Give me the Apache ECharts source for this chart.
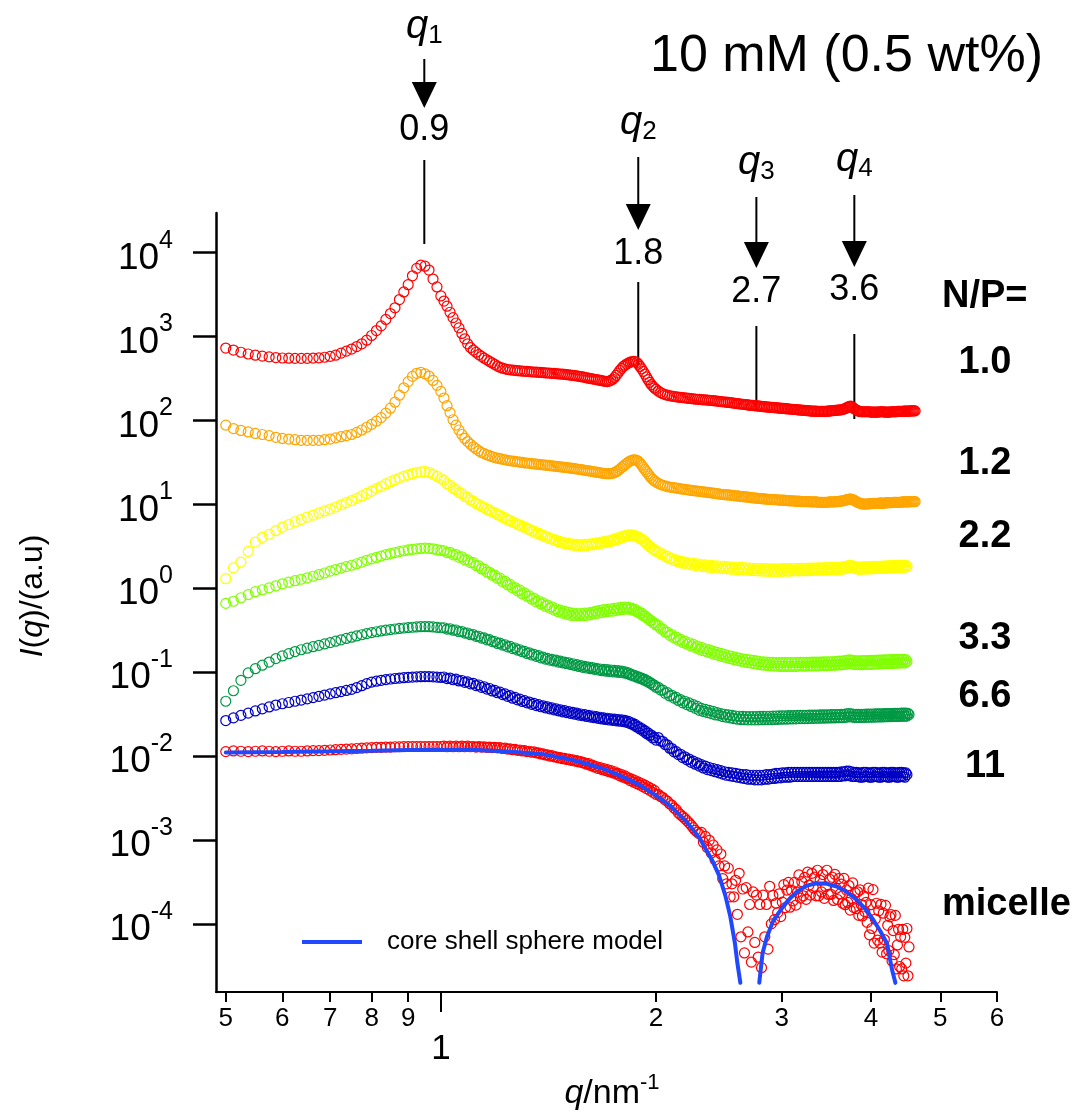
<!DOCTYPE html>
<html>
<head>
<meta charset="utf-8">
<script src="https://cdn.jsdelivr.net/npm/echarts@6/dist/echarts.min.js"></script>
<style>
  html, body { margin: 0; padding: 0; background: #fff; }
  #chart { width: 1088px; height: 1115px; }
</style>
</head>
<body>
<div id="chart"></div>
<script>
const FONT = '"Liberation Sans", Arial, Helvetica, sans-serif';

// Scattering vector q (nm^-1) of the measured points
const qGrid = [
  0.5, 0.5125, 0.525, 0.5375, 0.55, 0.5625, 0.575, 0.5875, 0.6, 0.6125, 0.625, 0.6375, 0.65, 0.6625, 0.675, 0.6875,
  0.7, 0.7125, 0.725, 0.7375, 0.75, 0.7625, 0.775, 0.7875, 0.8, 0.8125, 0.825, 0.8375, 0.85, 0.8625, 0.875, 0.8875,
  0.9, 0.9125, 0.925, 0.9375, 0.95, 0.9625, 0.975, 0.9875, 1.0,
  1.01, 1.02, 1.03, 1.04, 1.05, 1.06, 1.07, 1.08, 1.09, 1.10,
  1.11, 1.12, 1.13, 1.14, 1.15, 1.16, 1.17, 1.18, 1.19, 1.20,
  1.21, 1.22, 1.23, 1.24, 1.25, 1.26, 1.27, 1.28, 1.29, 1.30,
  1.31, 1.32, 1.33, 1.34, 1.35, 1.36, 1.37, 1.38, 1.39, 1.40,
  1.41, 1.42, 1.43, 1.44, 1.45, 1.46, 1.47, 1.48, 1.49, 1.50,
  1.51, 1.52, 1.53, 1.54, 1.55, 1.56, 1.57, 1.58, 1.59, 1.60,
  1.61, 1.62, 1.63, 1.64, 1.65, 1.66, 1.67, 1.68, 1.69, 1.70,
  1.71, 1.72, 1.73, 1.74, 1.75, 1.76, 1.77, 1.78, 1.79, 1.80,
  1.81, 1.82, 1.83, 1.84, 1.85, 1.86, 1.87, 1.88, 1.89, 1.90,
  1.91, 1.92, 1.93, 1.94, 1.95, 1.96, 1.97, 1.98, 1.99, 2.00,
  2.015, 2.03, 2.045, 2.06, 2.075, 2.09, 2.105, 2.12, 2.135, 2.15,
  2.165, 2.18, 2.195, 2.21, 2.225, 2.24, 2.255, 2.27, 2.285, 2.30,
  2.315, 2.33, 2.345, 2.36, 2.375, 2.39, 2.405, 2.42, 2.435, 2.45,
  2.465, 2.48, 2.495, 2.51, 2.525, 2.54, 2.555, 2.57, 2.585, 2.60,
  2.615, 2.63, 2.645, 2.66, 2.675, 2.69, 2.705, 2.72, 2.735, 2.75,
  2.765, 2.78, 2.795, 2.81, 2.825, 2.84, 2.855, 2.87, 2.885, 2.90,
  2.915, 2.93, 2.945, 2.96, 2.975, 2.99, 3.005, 3.02, 3.035, 3.05,
  3.065, 3.08, 3.095, 3.11, 3.125, 3.14, 3.155, 3.17, 3.185, 3.20,
  3.215, 3.23, 3.245, 3.26, 3.275, 3.29, 3.305, 3.32, 3.335, 3.35,
  3.365, 3.38, 3.395, 3.41, 3.425, 3.44, 3.455, 3.47, 3.485, 3.50,
  3.515, 3.53, 3.545, 3.56, 3.575, 3.59, 3.605, 3.62, 3.635, 3.65,
  3.665, 3.68, 3.695, 3.71, 3.725, 3.74, 3.755, 3.77, 3.785, 3.80,
  3.815, 3.83, 3.845, 3.86, 3.875, 3.89, 3.905, 3.92, 3.935, 3.95,
  3.965, 3.98, 3.995, 4.01, 4.025, 4.04, 4.055, 4.07, 4.085, 4.10,
  4.115, 4.13, 4.145, 4.16, 4.175, 4.19, 4.205, 4.22, 4.235, 4.25,
  4.265, 4.28, 4.295, 4.31, 4.325, 4.34, 4.355, 4.37, 4.385, 4.40,
  4.415, 4.43, 4.445, 4.46, 4.475, 4.49, 4.505, 4.52, 4.535, 4.55,
  4.565, 4.58, 4.595, 4.61
];

// Intensity I(q) in a.u. for each N/P ratio (curves shifted vertically for clarity)
const intensityNP10 = [
  730, 690, 650, 620, 600, 585, 572, 562, 555, 552, 550, 549, 550, 553, 558, 567, 580, 600, 635, 670, 710, 760, 820, 905,
  1030, 1180, 1340, 1600, 1880, 2200, 2760, 3400, 4150, 5300, 6500, 7100, 6900, 6200, 4850, 3900, 3050,
  2650, 2300, 1950, 1680, 1450, 1270, 1090, 940, 820, 740,
  690, 650, 610, 580, 552, 528, 505, 485, 465, 445,
  430, 420, 412, 405, 401, 398, 395, 392, 390, 388,
  386, 384, 382, 380, 378, 377, 375, 374, 372, 370,
  368, 367, 365, 364, 362, 360, 358, 356, 354, 352,
  349, 347, 344, 342, 339, 336, 333, 330, 326, 322,
  319, 316, 313, 310, 307, 304, 301, 298, 295, 292,
  291, 295, 301, 310, 325, 345, 368, 395, 418, 440,
  456, 470, 483, 495, 501, 505, 502, 490, 468, 440,
  412, 385, 357, 330, 306, 285, 268, 255, 244, 235,
  224, 215, 208, 203, 200, 197, 195, 193, 191, 190,
  188, 187, 186, 185, 183, 182, 181, 180, 179, 178,
  177, 176, 176, 175, 174, 173, 172, 171, 170, 169,
  168, 167, 166, 165, 164, 163, 162, 161, 160, 159,
  158, 157, 156, 155, 154, 153, 152, 151, 151, 150,
  149, 149, 148, 147, 146, 146, 145, 144, 144, 143,
  143, 142, 142, 141, 140, 140, 139, 139, 138, 138,
  137, 137, 136, 136, 135, 135, 134, 134, 133, 133,
  132, 132, 131, 131, 130, 130, 129, 129, 129, 129,
  128, 128, 128, 128, 128, 128, 128, 129, 129, 130,
  130, 131, 131, 132, 132, 133, 133, 134, 134, 135,
  137, 139, 141, 144, 146, 148, 147, 143, 139, 136,
  133, 131, 129, 128, 127, 127, 127, 127, 127, 127,
  127, 127, 126, 126, 126, 126, 126, 126, 126, 126,
  127, 127, 127, 127, 126, 126, 126, 126, 126, 126,
  127, 127, 127, 127, 127, 127, 128, 128, 128, 128,
  128, 128, 129, 129, 129, 129, 129, 129, 130, 130,
  130, 130, 130, 130
];
const intensityNP12 = [
  88, 80, 76, 73, 70, 68, 66, 63, 61, 60, 59, 58, 58, 58, 58, 59, 60, 62, 64, 66, 68, 72, 77, 83,
  90, 98, 108, 122, 140, 165, 200, 245, 290, 335, 365, 375, 360, 338, 300, 262, 222,
  185, 150, 124, 102, 88, 77, 68, 61, 56, 52,
  48.5, 46, 43.5, 41.5, 40.2, 39, 38, 37, 36.2, 35.5,
  35, 34.5, 34, 33.5, 33.1, 32.8, 32.5, 32.2, 31.9, 31.6,
  31.3, 31.1, 30.8, 30.6, 30.4, 30.2, 30.0, 29.8, 29.6, 29.4,
  29.2, 29.0, 28.8, 28.6, 28.4, 28.2, 28.0, 27.8, 27.6, 27.4,
  27.2, 27.0, 26.8, 26.6, 26.4, 26.2, 26.0, 25.8, 25.5, 25.3,
  25.1, 24.9, 24.6, 24.4, 24.2, 24.0, 23.8, 23.6, 23.4, 23.3,
  23.2, 23.2, 23.3, 23.5, 23.9, 24.5, 25.3, 26.3, 27.4, 28.5,
  29.7, 30.8, 31.9, 32.8, 33.5, 34.0, 34.0, 33.5, 32.5, 31.0,
  29.3, 27.5, 26.0, 24.5, 23.1, 21.8, 20.7, 19.8, 19.1, 18.5,
  17.8, 17.3, 16.9, 16.6, 16.3, 16.1, 15.9, 15.8, 15.6, 15.5,
  15.3, 15.2, 15.1, 15.0, 14.8, 14.7, 14.6, 14.5, 14.4, 14.3,
  14.2, 14.1, 14.0, 13.9, 13.8, 13.7, 13.6, 13.5, 13.4, 13.3,
  13.2, 13.1, 13.05, 13.0, 12.95, 12.9, 12.8, 12.7, 12.65, 12.6,
  12.5, 12.4, 12.35, 12.3, 12.25, 12.2, 12.1, 12.0, 11.95, 11.9,
  11.85, 11.8, 11.75, 11.7, 11.65, 11.6, 11.55, 11.5, 11.45, 11.4,
  11.4, 11.4, 11.35, 11.3, 11.25, 11.2, 11.2, 11.2, 11.15, 11.1,
  11.05, 11.0, 11.0, 11.0, 10.95, 10.9, 10.9, 10.9, 10.85, 10.8,
  10.8, 10.8, 10.8, 10.8, 10.75, 10.7, 10.7, 10.7, 10.7, 10.7,
  10.65, 10.6, 10.6, 10.6, 10.6, 10.6, 10.6, 10.6, 10.65, 10.7,
  10.7, 10.7, 10.7, 10.7, 10.75, 10.8, 10.85, 10.9, 10.95, 11.0,
  11.1, 11.2, 11.3, 11.4, 11.5, 11.6, 11.5, 11.4, 11.2, 11.0,
  10.8, 10.6, 10.45, 10.3, 10.2, 10.1, 10.1, 10.1, 10.1, 10.1,
  10.15, 10.2, 10.2, 10.2, 10.25, 10.3, 10.3, 10.3, 10.3, 10.3,
  10.35, 10.4, 10.35, 10.3, 10.35, 10.4, 10.45, 10.5, 10.5, 10.5,
  10.5, 10.5, 10.55, 10.6, 10.6, 10.6, 10.6, 10.6, 10.6, 10.6,
  10.65, 10.7, 10.7, 10.7, 10.7, 10.7, 10.7, 10.7, 10.75, 10.8,
  10.8, 10.8, 10.8, 10.8
];
const intensityNP22 = [
  1.30, 1.75, 2.05, 2.75, 3.55, 4.05, 4.40, 4.85, 5.35, 5.75, 6.20, 6.60, 7.05, 7.45, 7.90, 8.35, 8.80, 9.30, 9.85, 10.5,
  11.1, 11.8, 12.6, 13.5, 14.4, 15.4, 16.4, 17.5, 18.6, 19.6, 20.6, 21.6, 22.5, 23.3, 23.9, 24.4, 24.5, 24.0, 22.8, 21.5, 20.2,
  19.3, 17.6, 16.9, 15.5, 15.0, 13.8, 13.4, 12.4, 12.1, 11.2,
  10.9, 10.2, 10.0, 9.4, 9.2, 8.7, 8.6, 8.1, 7.95, 7.5,
  7.4, 7.0, 6.9, 6.5, 6.45, 6.1, 6.05, 5.75, 5.7, 5.4,
  5.4, 5.1, 5.05, 4.8, 4.8, 4.55, 4.55, 4.3, 4.3, 4.1,
  4.1, 3.9, 3.9, 3.72, 3.75, 3.58, 3.6, 3.45, 3.5, 3.36,
  3.42, 3.29, 3.36, 3.24, 3.33, 3.22, 3.32, 3.22, 3.33, 3.24,
  3.36, 3.28, 3.41, 3.32, 3.47, 3.38, 3.53, 3.44, 3.6, 3.5,
  3.66, 3.58, 3.76, 3.67, 3.87, 3.77, 4.0, 3.9, 4.14, 4.05,
  4.25, 4.17, 4.33, 4.26, 4.33, 4.22, 4.25, 4.12, 4.08, 3.92,
  3.88, 3.67, 3.6, 3.41, 3.33, 3.14, 3.08, 2.92, 2.88, 2.75,
  2.72, 2.55, 2.55, 2.38, 2.40, 2.25, 2.27, 2.14, 2.18, 2.06,
  2.10, 1.99, 2.05, 1.94, 2.01, 1.90, 1.98, 1.86, 1.95, 1.84,
  1.92, 1.81, 1.90, 1.79, 1.88, 1.77, 1.86, 1.75, 1.85, 1.74,
  1.83, 1.72, 1.82, 1.71, 1.80, 1.69, 1.79, 1.68, 1.78, 1.67,
  1.77, 1.66, 1.76, 1.65, 1.75, 1.64, 1.74, 1.63, 1.73, 1.62,
  1.72, 1.61, 1.72, 1.60, 1.71, 1.60, 1.71, 1.59, 1.70, 1.59,
  1.70, 1.59, 1.70, 1.59, 1.70, 1.59, 1.71, 1.60, 1.71, 1.60,
  1.71, 1.60, 1.72, 1.61, 1.72, 1.61, 1.72, 1.61, 1.73, 1.62,
  1.73, 1.62, 1.73, 1.62, 1.74, 1.63, 1.74, 1.63, 1.74, 1.63,
  1.75, 1.64, 1.75, 1.64, 1.75, 1.64, 1.76, 1.65, 1.76, 1.65,
  1.77, 1.66, 1.77, 1.66, 1.78, 1.67, 1.78, 1.68, 1.79, 1.69,
  1.81, 1.71, 1.83, 1.75, 1.87, 1.79, 1.88, 1.77, 1.83, 1.72,
  1.80, 1.69, 1.79, 1.68, 1.79, 1.69, 1.80, 1.69, 1.80, 1.70,
  1.81, 1.70, 1.81, 1.71, 1.82, 1.71, 1.82, 1.72, 1.83, 1.72,
  1.83, 1.73, 1.84, 1.73, 1.84, 1.74, 1.85, 1.74, 1.85, 1.75,
  1.86, 1.75, 1.86, 1.76, 1.87, 1.76, 1.87, 1.77, 1.88, 1.77,
  1.88, 1.78, 1.88, 1.78, 1.87, 1.82
];
const intensityNP33 = [
  0.66, 0.70, 0.77, 0.84, 0.91, 0.96, 1.01, 1.07, 1.13, 1.18, 1.23, 1.28, 1.33, 1.39, 1.45, 1.52, 1.60, 1.67, 1.74, 1.81,
  1.88, 1.96, 2.05, 2.15, 2.24, 2.33, 2.42, 2.51, 2.59, 2.66, 2.73, 2.80, 2.86, 2.91, 2.95, 2.98, 3.00, 2.99, 2.95, 2.88, 2.82,
  2.80, 2.66, 2.68, 2.50, 2.52, 2.34, 2.36, 2.18, 2.18, 2.02,
  2.02, 1.86, 1.85, 1.70, 1.69, 1.56, 1.55, 1.43, 1.43, 1.31,
  1.32, 1.20, 1.21, 1.10, 1.11, 1.01, 1.02, 0.93, 0.95, 0.86,
  0.88, 0.80, 0.81, 0.74, 0.76, 0.69, 0.71, 0.65, 0.67, 0.61,
  0.63, 0.58, 0.60, 0.55, 0.57, 0.525, 0.55, 0.505, 0.53, 0.49,
  0.515, 0.475, 0.505, 0.47, 0.50, 0.47, 0.50, 0.47, 0.505, 0.475,
  0.51, 0.485, 0.52, 0.495, 0.535, 0.505, 0.545, 0.515, 0.555, 0.525,
  0.56, 0.53, 0.57, 0.535, 0.575, 0.545, 0.585, 0.555, 0.59, 0.56,
  0.595, 0.565, 0.59, 0.56, 0.58, 0.55, 0.56, 0.525, 0.53, 0.50,
  0.505, 0.47, 0.47, 0.445, 0.44, 0.415, 0.41, 0.39, 0.385, 0.365,
  0.36, 0.33, 0.325, 0.30, 0.30, 0.275, 0.28, 0.256, 0.262, 0.24,
  0.246, 0.226, 0.234, 0.215, 0.224, 0.205, 0.214, 0.196, 0.205, 0.187,
  0.198, 0.18, 0.19, 0.174, 0.184, 0.168, 0.178, 0.163, 0.172, 0.158,
  0.167, 0.153, 0.163, 0.149, 0.158, 0.145, 0.154, 0.141, 0.15, 0.138,
  0.147, 0.135, 0.144, 0.132, 0.142, 0.13, 0.14, 0.128, 0.138, 0.126,
  0.136, 0.124, 0.134, 0.122, 0.133, 0.121, 0.132, 0.12, 0.131, 0.119,
  0.131, 0.118, 0.13, 0.118, 0.13, 0.117, 0.13, 0.117, 0.13, 0.117,
  0.13, 0.117, 0.13, 0.117, 0.13, 0.117, 0.13, 0.118, 0.131, 0.118,
  0.131, 0.118, 0.131, 0.118, 0.131, 0.119, 0.132, 0.119, 0.132, 0.119,
  0.132, 0.119, 0.132, 0.12, 0.133, 0.12, 0.133, 0.12, 0.133, 0.12,
  0.133, 0.121, 0.134, 0.121, 0.134, 0.122, 0.135, 0.122, 0.135, 0.123,
  0.136, 0.124, 0.138, 0.126, 0.14, 0.127, 0.139, 0.125, 0.137, 0.123,
  0.136, 0.123, 0.136, 0.123, 0.136, 0.123, 0.137, 0.124, 0.137, 0.124,
  0.137, 0.124, 0.138, 0.124, 0.138, 0.125, 0.138, 0.125, 0.139, 0.125,
  0.139, 0.126, 0.139, 0.126, 0.14, 0.126, 0.14, 0.127, 0.14, 0.127,
  0.141, 0.127, 0.141, 0.128, 0.141, 0.128, 0.142, 0.128, 0.142, 0.129,
  0.142, 0.129, 0.142, 0.129, 0.141, 0.134
];
const intensityNP66 = [
  0.045, 0.060, 0.080, 0.098, 0.110, 0.121, 0.132, 0.145, 0.156, 0.166, 0.176, 0.185, 0.193, 0.201, 0.209, 0.217, 0.225, 0.234, 0.243, 0.252,
  0.261, 0.270, 0.279, 0.288, 0.296, 0.303, 0.310, 0.316, 0.322, 0.327, 0.332, 0.336, 0.340, 0.343, 0.346, 0.348, 0.349, 0.348, 0.346, 0.342, 0.338,
  0.338, 0.326, 0.329, 0.316, 0.318, 0.303, 0.305, 0.292, 0.293, 0.279,
  0.281, 0.267, 0.268, 0.255, 0.256, 0.243, 0.244, 0.231, 0.232, 0.22,
  0.222, 0.21, 0.212, 0.2, 0.203, 0.191, 0.194, 0.183, 0.185, 0.175,
  0.177, 0.167, 0.17, 0.16, 0.163, 0.154, 0.157, 0.148, 0.151, 0.143,
  0.146, 0.139, 0.142, 0.136, 0.139, 0.132, 0.135, 0.129, 0.132, 0.126,
  0.129, 0.123, 0.126, 0.12, 0.123, 0.117, 0.12, 0.114, 0.117, 0.112,
  0.115, 0.11, 0.113, 0.108, 0.111, 0.106, 0.109, 0.104, 0.108, 0.103,
  0.107, 0.102, 0.106, 0.101, 0.105, 0.1, 0.104, 0.099, 0.103, 0.098,
  0.101, 0.096, 0.098, 0.093, 0.094, 0.09, 0.091, 0.087, 0.088, 0.084,
  0.085, 0.081, 0.082, 0.078, 0.078, 0.074, 0.074, 0.07, 0.07, 0.066,
  0.066, 0.061, 0.061, 0.056, 0.057, 0.052, 0.053, 0.049, 0.05, 0.046,
  0.047, 0.043, 0.045, 0.041, 0.043, 0.039, 0.041, 0.037, 0.039, 0.035,
  0.037, 0.034, 0.036, 0.033, 0.035, 0.032, 0.034, 0.031, 0.033, 0.0305,
  0.032, 0.0295, 0.0315, 0.029, 0.031, 0.0285, 0.0305, 0.028, 0.030, 0.0275,
  0.0298, 0.0272, 0.0297, 0.0271, 0.0296, 0.027, 0.0296, 0.027, 0.0296, 0.027,
  0.0296, 0.027, 0.0297, 0.0271, 0.0297, 0.0271, 0.0298, 0.0272, 0.0298, 0.0272,
  0.0299, 0.0273, 0.03, 0.0274, 0.0301, 0.0275, 0.0302, 0.0276, 0.0302, 0.0276,
  0.0303, 0.0277, 0.0304, 0.0278, 0.0304, 0.0278, 0.0305, 0.0279, 0.0305, 0.0279,
  0.0306, 0.028, 0.0306, 0.028, 0.0307, 0.0281, 0.0307, 0.0281, 0.0308, 0.0282,
  0.0308, 0.0282, 0.0309, 0.0283, 0.0309, 0.0283, 0.031, 0.0284, 0.031, 0.0284,
  0.0311, 0.0285, 0.0311, 0.0285, 0.0312, 0.0286, 0.0312, 0.0286, 0.0313, 0.0287,
  0.0315, 0.0289, 0.0318, 0.0292, 0.032, 0.0294, 0.0318, 0.0291, 0.0315, 0.0288,
  0.0314, 0.0288, 0.0314, 0.0288, 0.0315, 0.0289, 0.0315, 0.0289, 0.0316, 0.029,
  0.0316, 0.029, 0.0317, 0.0291, 0.0317, 0.0291, 0.0318, 0.0292, 0.0318, 0.0292,
  0.0319, 0.0293, 0.0319, 0.0293, 0.032, 0.0294, 0.032, 0.0294, 0.0321, 0.0295,
  0.0321, 0.0295, 0.0322, 0.0296, 0.0322, 0.0296, 0.0323, 0.0297, 0.0323, 0.0297,
  0.0324, 0.0298, 0.0324, 0.0298, 0.0325, 0.0299, 0.0322, 0.0312
];
const intensityNP11 = [
  0.0265, 0.0285, 0.0305, 0.0325, 0.0345, 0.0365, 0.0385, 0.0405, 0.042, 0.0435, 0.045, 0.0465, 0.048, 0.0497, 0.0515, 0.0533, 0.0551, 0.0569, 0.0587, 0.0605,
  0.0623, 0.0655, 0.069, 0.073, 0.076, 0.078, 0.080, 0.0815, 0.0828, 0.084, 0.085, 0.0859, 0.0867, 0.0874, 0.0879, 0.0883, 0.0885, 0.0884, 0.088, 0.0873, 0.0865,
  0.0875, 0.0838, 0.085, 0.0812, 0.0825, 0.0785, 0.0795, 0.0755, 0.0765, 0.0724,
  0.0736, 0.0692, 0.0703, 0.066, 0.067, 0.0628, 0.0638, 0.0597, 0.0607, 0.0568,
  0.0578, 0.054, 0.0551, 0.0514, 0.0525, 0.0489, 0.05, 0.0467, 0.0477, 0.0447,
  0.0457, 0.043, 0.044, 0.0414, 0.0424, 0.04, 0.041, 0.0387, 0.0397, 0.0376,
  0.0386, 0.0365, 0.0375, 0.0355, 0.0365, 0.0346, 0.0356, 0.0337, 0.0347, 0.0329,
  0.0339, 0.0322, 0.0331, 0.0315, 0.0324, 0.0308, 0.0317, 0.0302, 0.0311, 0.0296,
  0.0305, 0.0291, 0.03, 0.0286, 0.0295, 0.0281, 0.029, 0.0277, 0.0285, 0.0273,
  0.0282, 0.0269, 0.0278, 0.0266, 0.0275, 0.0263, 0.0272, 0.026, 0.027, 0.0257,
  0.0266, 0.0252, 0.0259, 0.0244, 0.0249, 0.0234, 0.0238, 0.0222, 0.0225, 0.021,
  0.0213, 0.0198, 0.0201, 0.0186, 0.0189, 0.0175, 0.0178, 0.0164, 0.0167, 0.0155,
  0.0166, 0.0151, 0.0149, 0.0137, 0.0136, 0.0124, 0.0123, 0.0112, 0.0113, 0.0104,
  0.0105, 0.0096, 0.0098, 0.009, 0.0092, 0.0084, 0.0087, 0.008, 0.0083, 0.0076,
  0.0079, 0.0072, 0.0076, 0.0069, 0.0073, 0.0067, 0.0071, 0.0065, 0.0069, 0.0063,
  0.0067, 0.0061, 0.0065, 0.0059, 0.0064, 0.0058, 0.0063, 0.0057, 0.0062, 0.0056,
  0.0061, 0.0055, 0.006, 0.0054, 0.006, 0.0053, 0.0059, 0.0053, 0.0059, 0.0052,
  0.0059, 0.0052, 0.0059, 0.0052, 0.0059, 0.0053, 0.006, 0.0053, 0.006, 0.0054,
  0.0061, 0.0054, 0.0062, 0.0055, 0.0062, 0.0055, 0.0063, 0.0056, 0.0063, 0.0056,
  0.0064, 0.0056, 0.0064, 0.0057, 0.0064, 0.0057, 0.0064, 0.0057, 0.0064, 0.0057,
  0.0064, 0.0057, 0.0064, 0.0057, 0.0064, 0.0057, 0.0064, 0.0057, 0.0064, 0.0057,
  0.0064, 0.0057, 0.0064, 0.0057, 0.0064, 0.0057, 0.0064, 0.0057, 0.0064, 0.0057,
  0.0064, 0.0057, 0.0064, 0.0057, 0.0064, 0.0057, 0.0064, 0.0057, 0.0065, 0.0058,
  0.0065, 0.0058, 0.0066, 0.0059, 0.0066, 0.0058, 0.0065, 0.0057, 0.0064, 0.0057,
  0.0064, 0.0057, 0.0063, 0.0056, 0.0063, 0.0056, 0.0064, 0.0057, 0.0064, 0.0057,
  0.0063, 0.0056, 0.0063, 0.0056, 0.0064, 0.0057, 0.0064, 0.0057, 0.0063, 0.0056,
  0.0063, 0.0056, 0.0064, 0.0057, 0.0064, 0.0057, 0.0063, 0.0056, 0.0063, 0.0056,
  0.0064, 0.0057, 0.0064, 0.0057, 0.0063, 0.0056, 0.0063, 0.0056, 0.0064, 0.0057,
  0.0064, 0.0057, 0.0063, 0.0056, 0.0063, 0.006
];
const intensityMicelle = [
  0.0113, 0.0115, 0.0114, 0.0113, 0.0114, 0.0115, 0.0114, 0.0113, 0.0114, 0.0115, 0.0114, 0.0114, 0.0115, 0.0116, 0.0116, 0.0117, 0.0118, 0.0119, 0.0120, 0.0121,
  0.0122, 0.0123, 0.0124, 0.0125, 0.0126, 0.0127, 0.0127, 0.0128, 0.0128, 0.0129, 0.0129, 0.0130, 0.0130, 0.0130, 0.0130, 0.0130, 0.0130, 0.0130, 0.0130, 0.0130, 0.0130,
  0.0131, 0.0129, 0.0131, 0.0129, 0.0131, 0.0129, 0.0131, 0.0129, 0.0131, 0.0129,
  0.0130, 0.0128, 0.0130, 0.0128, 0.0129, 0.0127, 0.0128, 0.0126, 0.0127, 0.0125,
  0.0126, 0.0123, 0.0124, 0.0121, 0.0122, 0.0119, 0.0120, 0.0117, 0.0118, 0.0115,
  0.0116, 0.0113, 0.0114, 0.0111, 0.0112, 0.0109, 0.0109, 0.0106, 0.0106, 0.0103,
  0.0103, 0.0100, 0.0101, 0.0098, 0.0098, 0.0095, 0.0096, 0.0093, 0.0094, 0.0091,
  0.0092, 0.0089, 0.0090, 0.0087, 0.0088, 0.0085, 0.0086, 0.0083, 0.0083, 0.0080,
  0.0081, 0.0077, 0.0078, 0.0074, 0.0075, 0.0071, 0.0073, 0.0069, 0.0071, 0.0067,
  0.0069, 0.0065, 0.0067, 0.0063, 0.0065, 0.0061, 0.0062, 0.0058, 0.0060, 0.0056,
  0.0058, 0.0054, 0.0055, 0.0051, 0.0053, 0.0049, 0.0051, 0.0047, 0.0049, 0.0045,
  0.0047, 0.0043, 0.0045, 0.0041, 0.0043, 0.0039, 0.0041, 0.0037, 0.0039, 0.0035,
  0.0035, 0.0033, 0.0032, 0.0030, 0.0029, 0.0027, 0.0026, 0.0024, 0.0023, 0.0021,
  0.0020, 0.0019, 0.0018, 0.0017, 0.0016, 0.0015, 0.0014, 0.0013, 0.00124, 0.00118,
  0.00123, 0.00094, 0.0011, 0.00081, 0.00099, 0.0007, 0.00087, 0.00058, 0.00076, 0.00049,
  0.00068, 0.000345, 0.00049, 0.0003, 0.00046, 0.00021, 0.0003, 0.00021, 0.00033, 0.00013,
  0.0004, 0.00007, 0.00026, 0.000045, 0.00027, 0.00008, 0.00017, 0.000035, 0.00024, 0.00006,
  0.00022, 0.00004, 0.00017, 0.00003, 0.00022, 0.00007, 0.00017, 0.00005, 0.00028, 0.0001,
  0.000218, 0.000112, 0.000176, 0.000136, 0.000228, 0.000122, 0.000181, 0.000293, 0.000156, 0.000252,
  0.000312, 0.000158, 0.000251, 0.000188, 0.000312, 0.000167, 0.000238, 0.000383, 0.000203, 0.000318,
  0.000216, 0.000358, 0.000196, 0.000413, 0.00029, 0.00022, 0.0004, 0.000269, 0.00036, 0.000216,
  0.000435, 0.000216, 0.00033, 0.00024, 0.000387, 0.000201, 0.000278, 0.000435, 0.000224, 0.00034,
  0.000224, 0.000359, 0.00019, 0.000389, 0.000264, 0.000195, 0.000346, 0.000227, 0.000298, 0.000176,
  0.000348, 0.000169, 0.000253, 0.00018, 0.000286, 0.000146, 0.0002, 0.000308, 0.000156, 0.000234,
  0.000152, 0.000241, 0.000126, 0.000254, 0.00017, 0.000124, 0.000216, 0.00014, 0.00018, 0.000104,
  0.000266, 0.000074, 0.000169, 0.000088, 0.000256, 0.000059, 0.000114, 0.000176, 0.000064, 0.000143,
  0.000059, 0.000171, 0.000046, 0.000134, 0.000065, 0.000166, 0.000044, 0.000096, 0.000048, 0.000121,
  0.000129, 0.000036, 0.000083, 0.000043, 0.000126, 0.000029, 0.000056, 0.000086, 0.000031, 0.00007,
  0.000029, 0.000086, 0.000024, 0.000069, 0.000034, 0.000088, 0.000024, 0.000053
];

// Core-shell sphere form factor fit (null splits the curve at the minimum)
const modelQ = [
  0.50, 0.55, 0.60, 0.70, 0.80, 0.90, 1.00, 1.10, 1.20, 1.30, 1.40, 1.50, 1.60, 1.70, 1.80, 1.90, 2.00, 2.10, 2.20, 2.30,
  2.40, 2.45, 2.50, 2.54, 2.58, 2.60, 2.625, 2.70, 2.79, 2.82, 2.86, 2.92, 2.99, 3.06, 3.15, 3.25, 3.36, 3.47, 3.59, 3.70,
  3.82, 3.93, 4.03, 4.12, 4.21, 4.28, 4.326
];
const modelI = [
  0.0110, 0.0111, 0.0112, 0.0114, 0.0116, 0.0118, 0.0119, 0.0119, 0.0115, 0.0110, 0.0104, 0.0093, 0.0081, 0.0069, 0.0056, 0.0045, 0.0034, 0.0025, 0.0017, 0.00106,
  0.00056, 0.00038, 0.00022, 0.000125, 0.000058, 0.000034, 0.0000198, null, 0.0000198, 0.000045, 0.0000703, 0.000110, 0.000147, 0.000190, 0.000242, 0.000285, 0.000305, 0.000300, 0.000277, 0.000240,
  0.000193, 0.000150, 0.000111, 0.000082, 0.0000587, 0.0000283, 0.0000198
];

const seriesLabels = ['1.0', '1.2', '2.2', '3.3', '6.6', '11', 'micelle'];
const seriesColors = ['#ff0000', '#ffa500', '#ffff00', '#80ff00', '#009944', '#0000c4', '#ff0000'];
const modelName = 'core shell sphere model';

const xTickValues = [0.5, 0.6, 0.7, 0.8, 0.9, 2, 3, 4, 5, 6];
const xTickLabels = ['5', '6', '7', '8', '9', '2', '3', '4', '5', '6'];
const yTickValues = [1e-4, 1e-3, 1e-2, 1e-1, 1, 1e1, 1e2, 1e3, 1e4];

// Correlation peak positions q1..q4 and their quoted values
const peakQ = [0.948, 1.889, 2.764, 3.79];
const peakText = ['0.9', '1.8', '2.7', '3.6'];
const peakSub = ['1', '2', '3', '4'];

const chart = echarts.init(document.getElementById('chart'), null, { renderer: 'canvas' });

const intensities = [intensityNP10, intensityNP12, intensityNP22, intensityNP33, intensityNP66, intensityNP11, intensityMicelle];

const scatterSeries = intensities.map((vals, k) => ({
  type: 'scatter',
  name: seriesLabels[k],
  data: vals.map((v, i) => [qGrid[i], v]),
  symbol: 'circle',
  symbolSize: 10,
  itemStyle: { color: 'rgba(255,255,255,0)', borderColor: seriesColors[k], borderWidth: 1.2, opacity: 1 },
  silent: true,
  animation: false,
  z: 2
}));

const modelSeries = {
  type: 'line',
  name: modelName,
  data: modelQ.map((q, i) => [q, modelI[i] === null ? '-' : modelI[i]]),
  showSymbol: false,
  symbol: 'none',
  connectNulls: false,
  lineStyle: { color: '#1f48ff', width: 4, cap: 'round' },
  itemStyle: { color: '#1f48ff' },
  silent: true,
  animation: false,
  z: 3
};

const X_MIN = 0.4845, X_MAX = 6.002;
const Y_MIN = 1.54e-5, Y_MAX = 29700;

const option = {
  backgroundColor: '#fff',
  animation: false,
  grid: { left: 216, right: 91, top: 213, bottom: 123, containLabel: false, outerBoundsMode: 'none' },
  legend: {
    data: [modelName],
    left: 302,
    top: 929,
    padding: 0,
    itemWidth: 60,
    itemHeight: 4,
    icon: 'rect',
    selectedMode: false,
    textStyle: { fontSize: 26, fontFamily: FONT, color: '#000', padding: [0, 0, 0, 20] }
  },
  xAxis: [
    {
      type: 'log', min: X_MIN, max: X_MAX, position: 'bottom',
      axisLine: { show: true, lineStyle: { color: '#000', width: 2 } },
      axisTick: { show: true, length: 10, customValues: xTickValues, lineStyle: { color: '#000', width: 2 } },
      axisLabel: {
        customValues: xTickValues, margin: 14, fontSize: 26, fontFamily: FONT, color: '#000',
        formatter: v => {
          let best = 0;
          xTickValues.forEach((t, i) => { if (Math.abs(t - v) < Math.abs(xTickValues[best] - v)) best = i; });
          return xTickLabels[best];
        }
      },
      splitLine: { show: false },
      minorTick: { show: false }
    },
    {
      type: 'log', min: X_MIN, max: X_MAX, position: 'bottom', offset: 0,
      axisLine: { show: false },
      axisTick: { show: true, length: 20, customValues: [1], lineStyle: { color: '#000', width: 2 } },
      axisLabel: { customValues: [1], margin: 40, fontSize: 35, fontFamily: FONT, color: '#000', formatter: () => '1' },
      splitLine: { show: false }
    }
  ],
  yAxis: {
    type: 'log', min: Y_MIN, max: Y_MAX,
    axisLine: { show: true, lineStyle: { color: '#000', width: 2.5 } },
    axisTick: { show: true, length: 23, customValues: yTickValues, lineStyle: { color: '#000', width: 2.5 } },
    axisLabel: {
      customValues: yTickValues, margin: 43, color: '#000', fontFamily: FONT,
      formatter: v => '{b|10}{s|' + Math.round(Math.log10(v)) + '}',
      rich: {
        b: { fontSize: 37, fontFamily: FONT, color: '#000', padding: [12, 0, 0, 0] },
        s: { fontSize: 25, fontFamily: FONT, color: '#000', padding: [0, 0, 24, 0] }
      }
    },
    splitLine: { show: false }
  },
  series: [...scatterSeries, modelSeries]
};

chart.setOption(option);

// Annotation layer: title, peak markers, axis names, N/P labels
const px = q => chart.convertToPixel({ xAxisIndex: 0 }, q);
const markerLayout = [
  { labelY: 27, shaftTop: 59, tip: 108, valueY: 130, lineTop: 160, lineBottom: 244 },
  { labelY: 123, shaftTop: 157, tip: 230, valueY: 254, lineTop: 282, lineBottom: 365 },
  { labelY: 163, shaftTop: 197, tip: 268, valueY: 292, lineTop: 326, lineBottom: 410 },
  { labelY: 160, shaftTop: 195, tip: 267, valueY: 290, lineTop: 334, lineBottom: 419 }
];
const HEAD_LEN = 26, HEAD_HALF = 12.5;

const elements = [];
peakQ.forEach((q, i) => {
  const x = px(q);
  const m = markerLayout[i];
  elements.push({
    type: 'text', x: x, y: m.labelY, silent: true,
    style: {
      text: '{q|q}{s|' + peakSub[i] + '}', align: 'center', verticalAlign: 'middle',
      rich: {
        q: { fontSize: 40, fontStyle: 'italic', fontFamily: FONT, fill: '#000' },
        s: { fontSize: 26, fontFamily: FONT, fill: '#000', padding: [18, 0, 0, 0] }
      }
    }
  });
  elements.push({ type: 'line', silent: true, shape: { x1: x, y1: m.shaftTop, x2: x, y2: m.tip - HEAD_LEN + 2 }, style: { stroke: '#000', lineWidth: 2 } });
  elements.push({ type: 'polygon', silent: true, shape: { points: [[x - HEAD_HALF, m.tip - HEAD_LEN], [x + HEAD_HALF, m.tip - HEAD_LEN], [x, m.tip]] }, style: { fill: '#000' } });
  elements.push({
    type: 'text', x: x, y: m.valueY, silent: true,
    style: { text: peakText[i], fontSize: 36, fontFamily: FONT, fill: '#000', align: 'center', verticalAlign: 'middle' }
  });
  elements.push({ type: 'line', silent: true, shape: { x1: x, y1: m.lineTop, x2: x, y2: m.lineBottom }, style: { stroke: '#000', lineWidth: 2 } });
});

elements.push({
  type: 'text', x: 650, y: 57, silent: true,
  style: { text: '10 mM (0.5 wt%)', fontSize: 52, fontFamily: FONT, fill: '#000', align: 'left', verticalAlign: 'middle' }
});

// Axis titles
elements.push({
  type: 'text', x: 33, y: 596, rotation: Math.PI / 2, silent: true,
  style: {
    text: '{i|I}{n|(}{i|q}{n|)/(a.u)}', align: 'center', verticalAlign: 'middle',
    rich: {
      i: { fontSize: 32, fontStyle: 'italic', fontFamily: FONT, fill: '#000' },
      n: { fontSize: 32, fontFamily: FONT, fill: '#000' }
    }
  }
});
elements.push({
  type: 'text', x: 612, y: 1094, silent: true,
  style: {
    text: '{i|q}{n|/nm}{s|-1}', align: 'center', verticalAlign: 'middle',
    rich: {
      i: { fontSize: 34, fontStyle: 'italic', fontFamily: FONT, fill: '#000' },
      n: { fontSize: 34, fontFamily: FONT, fill: '#000' },
      s: { fontSize: 22, fontFamily: FONT, fill: '#000', padding: [0, 0, 22, 0] }
    }
  }
});

// N/P ratio labels beside each curve
const npLayout = [
  { text: 'N/P=', x: 942, y: 297, align: 'left' },
  { text: seriesLabels[0], x: 985, y: 363, align: 'center' },
  { text: seriesLabels[1], x: 985, y: 464, align: 'center' },
  { text: seriesLabels[2], x: 985, y: 537, align: 'center' },
  { text: seriesLabels[3], x: 985, y: 639, align: 'center' },
  { text: seriesLabels[4], x: 985, y: 697, align: 'center' },
  { text: seriesLabels[5], x: 985, y: 767, align: 'center' },
  { text: seriesLabels[6], x: 942, y: 905, align: 'left' }
];
npLayout.forEach(l => {
  elements.push({
    type: 'text', x: l.x, y: l.y, silent: true,
    style: { text: l.text, fontSize: 38, fontWeight: 'bold', fontFamily: FONT, fill: '#000', align: l.align, verticalAlign: 'middle' }
  });
});

chart.setOption({ graphic: { elements: elements } });
</script>
</body>
</html>
